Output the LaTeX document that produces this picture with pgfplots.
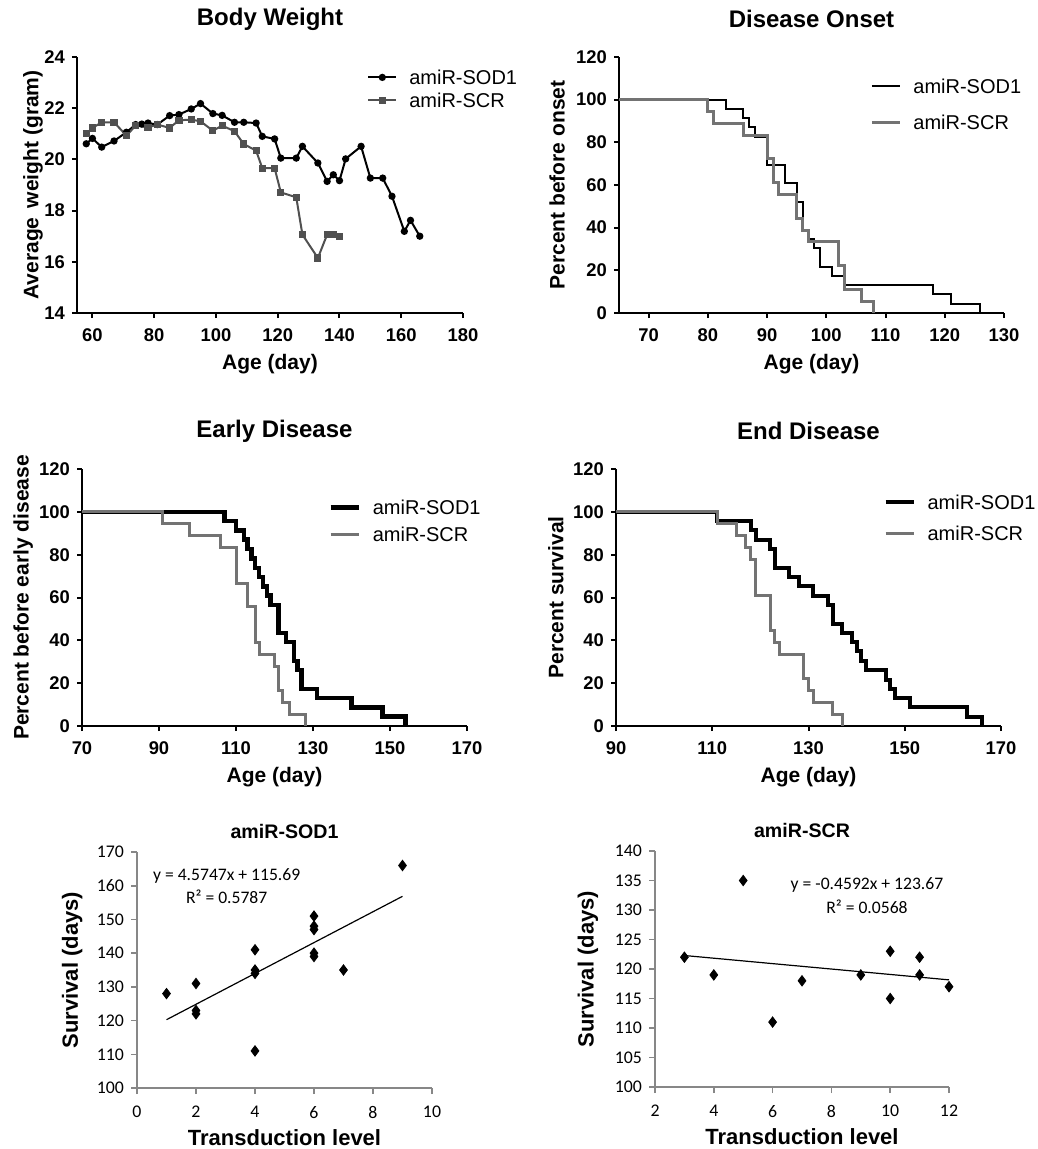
\documentclass[border=0pt]{standalone}
\usepackage{pgfplots}
\pgfplotsset{compat=1.18}
\usepackage{fontspec}
\setmainfont{Liberation Sans}
\newfontfamily\carlito{Carlito}

\definecolor{scrgray}{RGB}{115,115,115}
\definecolor{bwgray}{RGB}{80,80,80}
\definecolor{xlaxis}{RGB}{135,135,135}

\pgfplotsset{
  prism/.style={
    scale only axis,
    axis lines=left,
    axis line style={line width=1pt,-},
    every tick/.style={black,line width=1pt},
    major tick length=2.5pt,
    tick align=outside,
    /pgf/number format/assume math mode=true,
    ticklabel style={font=\bfseries\fontsize{9.2}{10}\selectfont},
    xticklabel style={yshift=-2pt},
    label style={font=\bfseries\fontsize{10.5}{12}\selectfont},
    title style={font=\bfseries\fontsize{12}{14}\selectfont, anchor=center, yshift=-6pt},
    xlabel style={anchor=center},
    ylabel style={anchor=center},
    legend style={draw=none, fill=none, inner sep=0pt, anchor=north west,
      column sep=4pt,
      font=\fontsize{10}{12}\selectfont,
      nodes={inner ysep=0pt, text height=7.2pt, text depth=0pt}},
    legend cell align=left,
    legend image code/.code={
      \draw[mark repeat=2,mark phase=2,##1] plot coordinates {(0pt,0pt) (7pt,0pt) (14pt,0pt)};},
  },
  excel/.style={
    scale only axis,
    axis lines=left,
    axis line style={xlaxis,line width=0.8pt,-},
    every tick/.style={xlaxis,line width=0.8pt},
    major tick length=3pt,
    tick align=outside,
    /pgf/number format/assume math mode=true,
    ticklabel style={font=\carlito\fontsize{8.9}{10}\selectfont},
    xticklabel style={yshift=-2.5pt},
    label style={font=\bfseries\fontsize{11}{13}\selectfont},
    title style={font=\bfseries\fontsize{9.8}{12}\selectfont, anchor=center, yshift=-6pt},
    xlabel style={anchor=center},
    ylabel style={anchor=center},
  },
}

\begin{document}
\begin{tikzpicture}
\useasboundingbox (0,0) rectangle (518.5pt,-574.5pt);

% Body Weight
\begin{axis}[prism,
  at={(38.5pt,-156.5pt)}, anchor=south west,
  width=193pt, height=128pt,
  xmin=55, xmax=180, ymin=14, ymax=24,
  xtick={60,80,...,180}, ytick={14,16,...,24},
  title={Body Weight}, title style={at={(0.5,1.148)}},
  xlabel={Age (day)}, xlabel style={at={(0.5,-0.2)}},
  ylabel={Average \,weight (gram)}, ylabel style={at={(-0.114,0.5)}},
  legend style={at={(0.751,0.950)}, row sep=4.3pt},
]
\addplot[black, line width=1pt, mark=*, mark size=1.3pt] coordinates {
  (58,20.61) (60,20.82) (63,20.48) (67,20.72) (71,21.06) (74,21.36) (76,21.38)
  (78,21.42) (81,21.36) (85,21.71) (88,21.75) (92,21.97) (95,22.18) (99,21.79)
  (102,21.72) (106,21.45) (109,21.45) (113,21.42) (115,20.90) (119,20.80)
  (121,20.05) (126,20.05) (128,20.51) (133,19.86) (136,19.14) (138,19.40)
  (140,19.17) (142,20.02) (147,20.51) (150,19.27) (154,19.27) (157,18.56)
  (161,17.19) (163,17.62) (166,17.00)
};
\addlegendentry{amiR-SOD1}
\addplot[bwgray, line width=1pt, mark=square*, mark size=1.3pt] coordinates {
  (58,21.00) (60,21.23) (63,21.45) (67,21.45) (71,20.93) (74,21.32) (78,21.25)
  (81,21.36) (85,21.23) (88,21.53) (92,21.55) (95,21.49) (99,21.12) (102,21.32)
  (106,21.10) (109,20.60) (113,20.34) (115,19.66) (119,19.66) (121,18.71)
  (126,18.52) (128,17.06) (133,16.15) (136,17.06) (138,17.06) (140,17.00)
};
\addlegendentry{amiR-SCR}
\end{axis}

% Disease Onset
\begin{axis}[prism,
  at={(309.5pt,-156.5pt)}, anchor=south west,
  width=192.5pt, height=128pt,
  xmin=65, xmax=130, ymin=0, ymax=120,
  xtick={70,80,...,130}, ytick={0,20,...,120},
  title={Disease Onset}, title style={at={(0.5,1.148)}},
  xlabel={Age (day)}, xlabel style={at={(0.5,-0.2)}},
  ylabel={Percent before onset}, ylabel style={at={(-0.161,0.5)}},
  legend style={at={(0.652,0.915)}, row sep=10.8pt},
]
\addplot[const plot, black, line width=1pt] coordinates {
  (65,100) (83,95.65) (86,91.3) (87,87.0) (88,82.6) (90,69.6) (93,60.9)
  (95,52.2) (96,39.1) (97,34.8) (98,30.4) (99,21.7) (101,17.4) (103,13.0)
  (118,8.7) (121,4.35) (126,0)
};
\addlegendentry{amiR-SOD1}
\addplot[const plot, scrgray, line width=1.5pt] coordinates {
  (65,100) (80,94.4) (81,88.9) (86,83.3) (90,72.2) (91,61.1) (92,55.6)
  (95,44.4) (96,38.9) (97,33.3) (102,22.2) (103,11.1) (106,5.56) (108,0)
};
\addlegendentry{amiR-SCR}
\end{axis}

% Early Disease
\begin{axis}[prism,
  at={(41pt,-363pt)}, anchor=south west,
  width=192.5pt, height=128.5pt,
  xmin=70, xmax=170, ymin=0, ymax=120,
  xtick={70,90,...,170}, ytick={0,20,...,120},
  title={Early Disease}, title style={at={(0.5,1.148)}},
  xlabel={Age (day)}, xlabel style={at={(0.5,-0.2)}},
  ylabel={Percent before early disease}, ylabel style={at={(-0.153,0.5)}},
  legend style={at={(0.639,0.880)}, row sep=6.3pt},
]
\addplot[const plot, black, line width=2.2pt] coordinates {
  (70,100) (107,95.65) (110,91.3) (112,87.0) (113,82.6) (114,78.3) (115,73.9)
  (116,69.6) (117,65.2) (118,60.9) (119,56.5) (121,43.5) (123,39.1) (125,30.4)
  (126,26.1) (127,17.4) (131,13.0) (140,8.7) (148,4.35) (154,0)
};
\addlegendentry{amiR-SOD1}
\addplot[const plot, scrgray, line width=1.5pt] coordinates {
  (70,100) (91,94.4) (98,88.9) (106,83.3) (110,66.7) (113,55.6) (115,38.9)
  (116,33.3) (120,27.8) (121,16.7) (122,11.1) (124,5.56) (128,0)
};
\addlegendentry{amiR-SCR}
\end{axis}

% End Disease
\begin{axis}[prism,
  at={(308pt,-363pt)}, anchor=south west,
  width=192.5pt, height=128.5pt,
  xmin=90, xmax=170, ymin=0, ymax=120,
  xtick={90,110,...,170}, ytick={0,20,...,120},
  title={End Disease}, title style={at={(0.5,1.148)}},
  xlabel={Age (day)}, xlabel style={at={(0.5,-0.2)}},
  ylabel={Percent survival}, ylabel style={at={(-0.156,0.5)}},
  legend style={at={(0.694,0.900)}, row sep=8.3pt},
]
\addplot[const plot, black, line width=2pt] coordinates {
  (90,100) (111,95.65) (118,91.3) (119,87.0) (122,82.6) (123,73.9) (126,69.6)
  (128,65.2) (131,60.9) (134,56.5) (135,47.8) (137,43.5) (139,39.1) (140,34.8)
  (141,30.4) (142,26.1) (146,21.7) (147,17.4) (148,13.0) (151,8.7) (163,4.35)
  (166,0)
};
\addlegendentry{amiR-SOD1}
\addplot[const plot, scrgray, line width=1.5pt] coordinates {
  (90,100) (111,94.4) (115,88.9) (117,83.3) (118,77.8) (119,61.1) (122,44.4)
  (123,38.9) (124,33.3) (129,22.2) (130,16.7) (131,11.1) (135,5.56) (137,0)
};
\addlegendentry{amiR-SCR}
\end{axis}

% Scatter amiR-SOD1
\begin{axis}[excel,
  at={(68.5pt,-544pt)}, anchor=south west,
  width=147.5pt, height=118pt,
  xmin=0, xmax=10, ymin=100, ymax=170,
  xtick={0,2,...,10}, ytick={100,110,...,170},
  title={amiR-SOD1}, title style={at={(0.5,1.085)}},
  xlabel={Transduction level}, xlabel style={at={(0.5,-0.212)}},
  ylabel={Survival (days)}, ylabel style={at={(-0.22,0.5)}},
]
\addplot[only marks, mark=diamond*, mark size=2.6pt, black] coordinates {
  (1,128) (2,131) (2,123) (2,122) (4,141) (4,135) (4,134) (4,111)
  (6,151) (6,148) (6,147) (6,140) (6,139) (7,135) (9,166)
};
\addplot[black, line width=0.6pt] coordinates {(1,120.26) (9,156.86)};
\node[font=\carlito\fontsize{8.8}{10}\selectfont] at (axis cs:3.04,162.8) {y = 4.5747x + 115.69};
\node[font=\carlito\fontsize{8.8}{10}\selectfont] at (axis cs:3.04,156.8) {R² = 0.5787};
\end{axis}

% Scatter amiR-SCR
\begin{axis}[excel,
  at={(327.5pt,-543.5pt)}, anchor=south west,
  width=147pt, height=118pt,
  xmin=2, xmax=12, ymin=100, ymax=140,
  xtick={2,4,...,12}, ytick={100,105,...,140},
  title={amiR-SCR}, title style={at={(0.5,1.085)}},
  xlabel={Transduction level}, xlabel style={at={(0.5,-0.212)}},
  ylabel={Survival (days)}, ylabel style={at={(-0.228,0.5)}},
]
\addplot[only marks, mark=diamond*, mark size=2.6pt, black] coordinates {
  (3,122) (4,119) (5,135) (6,111) (7,118) (9,119) (10,123) (10,115)
  (11,122) (11,119) (12,117)
};
\addplot[black, line width=0.6pt] coordinates {(3,122.29) (12,118.16)};
\node[font=\carlito\fontsize{8.8}{10}\selectfont] at (axis cs:9.21,134.2) {y = -0.4592x + 123.67};
\node[font=\carlito\fontsize{8.8}{10}\selectfont] at (axis cs:9.21,130.6) {R² = 0.0568};
\end{axis}
\end{tikzpicture}
\end{document}
